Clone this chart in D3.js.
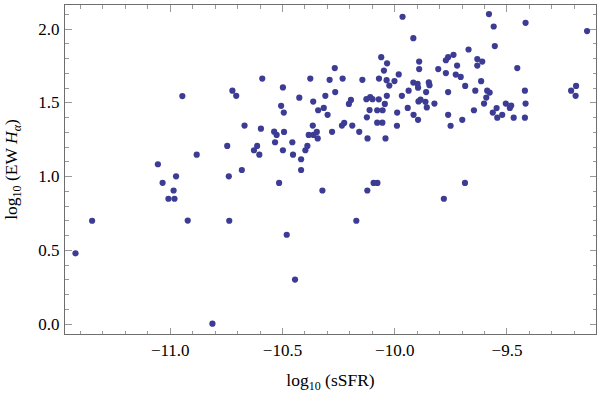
<!DOCTYPE html>
<html>

<head>
    <meta charset="utf-8">
    <title>sSFR vs EW Halpha</title>
    <script src="https://d3js.org/d3.v7.min.js" charset="utf-8"></script>
    <style type="text/css">
        body {
            margin: 0;
            background: #fff;
        }

        text {
            font-family: "Liberation Serif", "Times New Roman", Times, serif;
            fill: #000;
        }

        .axis path {
            display: none;
        }

        .axis line {
            stroke: #999;
            shape-rendering: crispEdges;
        }

        .frame {
            fill: none;
            stroke: #6e6e6e;
            stroke-width: 1;
            shape-rendering: crispEdges;
        }

        .dot {
            fill: #3c3c94;
        }
    </style>
</head>

<body>
</body>

<script type="text/javascript">
    // log10 sSFR for each galaxy
    var logSSFR = [
        -11.420, -11.346, -11.053, -11.032, -10.972, -10.983, -11.006, -10.979, -10.920, -10.944,
        -10.880, -10.810, -10.735, -10.721, -10.704, -10.588, -10.667, -10.594, -10.744, -10.737,
        -10.679, -10.625, -10.611, -10.601, -10.535, -10.524, -10.531, -10.491, -10.496, -10.496,
        -10.504, -10.492, -10.513, -10.454, -10.451, -10.415, -10.415, -10.396, -10.387, -10.423,
        -10.374, -10.361, -10.363, -10.381, -10.360, -10.345, -10.341, -10.339, -10.314, -10.297,
        -10.307, -10.288, -10.265, -10.263, -10.230, -10.277, -10.233, -10.223, -10.202, -10.193,
        -10.187, -10.156, -10.142, -10.320, -10.124, -10.107, -10.097, -10.069, -10.122, -10.110,
        -10.076, -10.052, -10.076, -10.053, -10.119, -10.039, -10.042, -10.033, -10.068, -10.058,
        -10.032, -10.046, -10.034, -10.022, -9.999, -9.980, -9.987, -9.988, -10.092, -10.075,
        -10.120, -10.479, -10.442, -10.169, -9.963, -9.578, -9.557, -9.415, -9.141, -9.915,
        -9.552, -9.669, -9.736, -9.760, -9.770, -9.889, -9.630, -9.608, -9.720, -9.630,
        -9.889, -9.804, -9.770, -9.726, -9.704, -9.452, -9.915, -9.896, -9.894, -9.846,
        -9.843, -9.684, -9.613, -9.936, -9.966, -9.858, -9.760, -9.639, -9.586, -9.575,
        -9.590, -9.600, -9.892, -9.883, -9.861, -9.821, -9.855, -9.940, -9.914, -9.894,
        -9.760, -9.749, -9.697, -9.645, -9.561, -9.544, -9.541, -9.519, -9.503, -9.485,
        -9.479, -9.468, -9.418, -9.415, -9.418, -9.212, -9.190, -9.192, -9.685, -9.779
    ];

    // log10 EW(Halpha), same order
    var logEW = [
        0.477, 0.698, 1.081, 0.955, 0.999, 0.903, 0.847, 0.847, 0.699, 1.543,
        1.146, 0.000, 0.698, 1.580, 1.545, 1.662, 1.343, 1.322, 1.205, 0.999,
        1.042, 1.176, 1.205, 1.146, 1.302, 1.280, 1.230, 1.300, 1.176, 1.602,
        1.477, 1.431, 0.954, 1.230, 1.146, 1.115, 1.042, 1.176, 1.205, 1.532,
        1.662, 1.506, 1.343, 1.280, 1.280, 1.300, 1.256, 1.447, 1.463, 1.416,
        1.545, 1.653, 1.733, 1.570, 1.662, 1.301, 1.343, 1.361, 1.490, 1.517,
        1.343, 1.301, 1.653, 0.903, 1.522, 1.536, 1.522, 1.521, 1.399, 1.448,
        1.447, 1.447, 1.363, 1.363, 1.256, 1.256, 1.490, 1.545, 1.662, 1.807,
        1.765, 1.716, 1.651, 1.614, 1.645, 1.690, 1.431, 1.342, 0.954, 0.954,
        0.903, 0.603, 0.299, 0.698, 2.081, 2.099, 2.015, 2.040, 1.984, 1.936,
        1.882, 1.859, 1.823, 1.807, 1.786, 1.777, 1.794, 1.777, 1.750, 1.750,
        1.726, 1.726, 1.699, 1.689, 1.673, 1.733, 1.635, 1.626, 1.600, 1.636,
        1.617, 1.612, 1.644, 1.580, 1.545, 1.570, 1.570, 1.580, 1.580, 1.567,
        1.533, 1.492, 1.507, 1.519, 1.504, 1.492, 1.466, 1.463, 1.416, 1.382,
        1.416, 1.342, 1.382, 1.447, 1.431, 1.462, 1.397, 1.416, 1.492, 1.463,
        1.479, 1.397, 1.580, 1.492, 1.397, 1.580, 1.612, 1.545, 0.954, 0.847
    ];

    var xMajor = [-11.0, -10.5, -10.0, -9.5];
    var yMajor = [0.0, 0.5, 1.0, 1.5, 2.0];

    var data = logSSFR.map(function (d, i) {
        return { x: d, y: logEW[i] };
    });

    var width = 600,
        height = 394;

    // plot frame in page pixels
    var frame = { left: 64.5, right: 596.5, top: 4.5, bottom: 334.5 };

    var x = d3.scaleLinear()
        .domain([-11.469, -9.099])
        .range([frame.left, frame.right]);

    var y = d3.scaleLinear()
        .domain([-0.0733, 2.164])
        .range([frame.bottom, frame.top]);

    // minor ticks every 0.1
    var xMinor = d3.range(-11.4, -9.05, 0.1).map(function (d) { return +d.toFixed(1); })
        .filter(function (d) { return xMajor.indexOf(d) < 0; });
    var yMinor = d3.range(0, 2.15, 0.1).map(function (d) { return +d.toFixed(1); })
        .filter(function (d) { return yMajor.indexOf(d) < 0; });

    var fmt = d3.format(".1f");

    var svg = d3.select("body").append("svg")
        .attr("width", width)
        .attr("height", height);

    function addAxis(axis, tx, ty) {
        var g = svg.append("g")
            .attr("class", "axis")
            .attr("transform", "translate(" + tx + "," + ty + ")")
            .call(axis);
        g.selectAll("text")
            .style("font-size", "17px");
        return g;
    }

    // bottom
    addAxis(d3.axisBottom(x).tickValues(xMinor).tickSize(-4).tickFormat(""), 0, frame.bottom);
    addAxis(d3.axisBottom(x).tickValues(xMajor).tickSize(-7).tickPadding(9).tickFormat(fmt), 0, frame.bottom);
    // top
    addAxis(d3.axisTop(x).tickValues(xMinor).tickSize(-4).tickFormat(""), 0, frame.top);
    addAxis(d3.axisTop(x).tickValues(xMajor).tickSize(-7).tickFormat(""), 0, frame.top);
    // left
    addAxis(d3.axisLeft(y).tickValues(yMinor).tickSize(-4).tickFormat(""), frame.left, 0);
    addAxis(d3.axisLeft(y).tickValues(yMajor).tickSize(-7).tickPadding(5).tickFormat(fmt), frame.left, 0);
    // right
    addAxis(d3.axisRight(y).tickValues(yMinor).tickSize(-4).tickFormat(""), frame.right, 0);
    addAxis(d3.axisRight(y).tickValues(yMajor).tickSize(-7).tickFormat(""), frame.right, 0);

    svg.append("rect")
        .attr("class", "frame")
        .attr("x", frame.left)
        .attr("y", frame.top)
        .attr("width", frame.right - frame.left)
        .attr("height", frame.bottom - frame.top);

    svg.append("g")
        .selectAll("circle")
        .data(data)
        .enter().append("circle")
        .attr("class", "dot")
        .attr("cx", function (d) { return x(d.x); })
        .attr("cy", function (d) { return y(d.y); })
        .attr("r", 3.1);

    // x axis title: log10 (sSFR)
    var xt = svg.append("text")
        .attr("x", (frame.left + frame.right) / 2)
        .attr("y", 386)
        .attr("text-anchor", "middle")
        .style("font-size", "17.5px");
    xt.append("tspan").text("log");
    xt.append("tspan").attr("dy", 4).style("font-size", "12px").text("10");
    xt.append("tspan").attr("dy", -4).text(" (sSFR)");

    // y axis title: log10 (EW H_alpha)
    var yt = svg.append("text")
        .attr("transform", "translate(17," + (frame.top + frame.bottom) / 2 + ") rotate(-90)")
        .attr("text-anchor", "middle")
        .style("font-size", "17.5px");
    yt.append("tspan").text("log");
    yt.append("tspan").attr("dy", 4).style("font-size", "12px").text("10");
    yt.append("tspan").attr("dy", -4).text(" (EW ");
    yt.append("tspan").style("font-style", "italic").text("H");
    yt.append("tspan").attr("dy", 4).style("font-size", "12px").style("font-style", "italic").text("\u03b1");
    yt.append("tspan").attr("dy", -4).text(")");
</script>

</html>
